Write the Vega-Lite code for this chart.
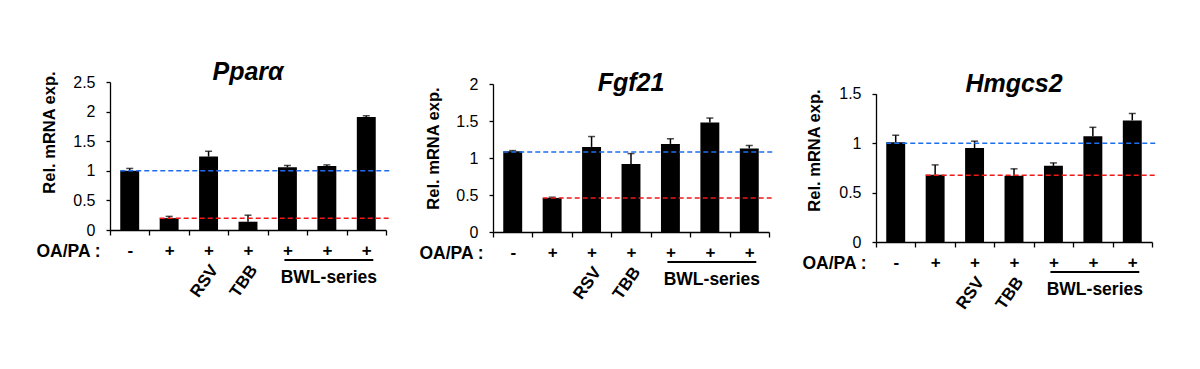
{
  "$schema": "https://vega.github.io/schema/vega-lite/v6.json",
  "background": "white",
  "padding": {"left": 36, "top": 59, "right": 5, "bottom": 5},
  "config": {
    "view": {"stroke": null},
    "font": "Liberation Sans",
    "axis": {"domainColor": "black", "tickColor": "black", "labelColor": "black", "titleColor": "black", "domainWidth": 1.3, "tickWidth": 1.3, "grid": false}
  },
  "datasets": {
    "bars": [
      {"gene": "Pparα", "cat": "Control", "agent": "", "value": 1.00, "upper": 1.04},
      {"gene": "Pparα", "cat": "OA/PA", "agent": "", "value": 0.20, "upper": 0.23},
      {"gene": "Pparα", "cat": "OA/PA+RSV", "agent": "RSV", "value": 1.24, "upper": 1.33},
      {"gene": "Pparα", "cat": "OA/PA+TBB", "agent": "TBB", "value": 0.14, "upper": 0.25},
      {"gene": "Pparα", "cat": "OA/PA+BWL-1", "agent": "", "value": 1.06, "upper": 1.09},
      {"gene": "Pparα", "cat": "OA/PA+BWL-2", "agent": "", "value": 1.08, "upper": 1.10},
      {"gene": "Pparα", "cat": "OA/PA+BWL-3", "agent": "", "value": 1.91, "upper": 1.93},
      {"gene": "Fgf21", "cat": "Control", "agent": "", "value": 1.09, "upper": 1.10},
      {"gene": "Fgf21", "cat": "OA/PA", "agent": "", "value": 0.46, "upper": 0.47},
      {"gene": "Fgf21", "cat": "OA/PA+RSV", "agent": "RSV", "value": 1.15, "upper": 1.29},
      {"gene": "Fgf21", "cat": "OA/PA+TBB", "agent": "TBB", "value": 0.92, "upper": 1.06},
      {"gene": "Fgf21", "cat": "OA/PA+BWL-1", "agent": "", "value": 1.19, "upper": 1.26},
      {"gene": "Fgf21", "cat": "OA/PA+BWL-2", "agent": "", "value": 1.48, "upper": 1.54},
      {"gene": "Fgf21", "cat": "OA/PA+BWL-3", "agent": "", "value": 1.13, "upper": 1.17},
      {"gene": "Hmgcs2", "cat": "Control", "agent": "", "value": 1.01, "upper": 1.08},
      {"gene": "Hmgcs2", "cat": "OA/PA", "agent": "", "value": 0.68, "upper": 0.78},
      {"gene": "Hmgcs2", "cat": "OA/PA+RSV", "agent": "RSV", "value": 0.95, "upper": 1.02},
      {"gene": "Hmgcs2", "cat": "OA/PA+TBB", "agent": "TBB", "value": 0.67, "upper": 0.74},
      {"gene": "Hmgcs2", "cat": "OA/PA+BWL-1", "agent": "", "value": 0.77, "upper": 0.80},
      {"gene": "Hmgcs2", "cat": "OA/PA+BWL-2", "agent": "", "value": 1.07, "upper": 1.16},
      {"gene": "Hmgcs2", "cat": "OA/PA+BWL-3", "agent": "", "value": 1.23, "upper": 1.30}
    ],
    "refs": [
      {"gene": "Pparα", "ref": "Control", "from": "Control", "to": "OA/PA+BWL-3", "level": 1.00},
      {"gene": "Pparα", "ref": "OA/PA", "from": "OA/PA", "to": "OA/PA+BWL-3", "level": 0.20},
      {"gene": "Fgf21", "ref": "Control", "from": "Control", "to": "OA/PA+BWL-3", "level": 1.08},
      {"gene": "Fgf21", "ref": "OA/PA", "from": "OA/PA", "to": "OA/PA+BWL-3", "level": 0.46},
      {"gene": "Hmgcs2", "ref": "Control", "from": "Control", "to": "OA/PA+BWL-3", "level": 1.00},
      {"gene": "Hmgcs2", "ref": "OA/PA", "from": "OA/PA", "to": "OA/PA+BWL-3", "level": 0.675}
    ],
    "bracket": [
      {"label": "BWL-series", "from": "OA/PA+BWL-1", "mid": "OA/PA+BWL-2", "to": "OA/PA+BWL-3"}
    ]
  },
  "hconcat": [
    {
      "width": 276, "height": 148,
      "title": {"text": "Pparα", "font": "Liberation Sans", "fontSize": 25, "fontWeight": "bold", "fontStyle": "italic", "color": "black", "anchor": "middle", "frame": "group", "offset": -14},
      "layer": [
        {
          "data": {"name": "bars"}, "transform": [{"filter": "datum.gene === 'Pparα'"}],
          "mark": {"type": "bar", "color": "black", "width": {"band": 0.48}},
          "encoding": {
            "x": {"field": "cat", "type": "nominal", "sort": null,
              "scale": {"domain": ["Control", "OA/PA", "OA/PA+RSV", "OA/PA+TBB", "OA/PA+BWL-1", "OA/PA+BWL-2", "OA/PA+BWL-3"], "paddingInner": 0, "paddingOuter": 0},
              "axis": {"tickBand": "extent", "tickSize": 5, "labelAngle": 0, "labelExpr": "datum.value === 'Control' ? '-' : (isString(datum.value) && indexof(datum.value, 'OA/PA') === 0 ? '+' : '')", "labelFontSize": 17, "labelFontWeight": "bold", "labelBaseline": "middle", "labelPadding": 15,
                "title": "OA/PA :", "titleFontSize": 17.5, "titleFontWeight": "bold", "titleX": -74, "titleY": 21, "titleAlign": "left", "titleBaseline": "middle", "titleAnchor": null}},
            "y": {"field": "value", "type": "quantitative",
              "scale": {"domain": [0, 2.5], "nice": false},
              "axis": {"values": [0, 0.5, 1, 1.5, 2, 2.5], "tickCount": 12, "format": "~g", "labelOverlap": {"expr": "false"}, "tickSize": 4, "labelFontSize": 16, "labelPadding": 11,
                "title": "Rel. mRNA exp.", "titleFontSize": 16.5, "titleFontWeight": "bold", "titleX": -53, "titleY": 50, "titleAlign": "center", "titleBaseline": "bottom", "titleAnchor": null}}
          }
        },
        {
          "data": {"name": "bars"}, "transform": [{"filter": "datum.gene === 'Pparα'"}],
          "mark": {"type": "rule", "color": "black", "strokeWidth": 1.5},
          "encoding": {"x": {"field": "cat", "type": "nominal", "sort": null}, "y": {"field": "value", "type": "quantitative"}, "y2": {"field": "upper"}}
        },
        {
          "data": {"name": "bars"}, "transform": [{"filter": "datum.gene === 'Pparα'"}],
          "mark": {"type": "tick", "color": "black", "orient": "horizontal", "size": 7, "thickness": 1.5},
          "encoding": {"x": {"field": "cat", "type": "nominal", "sort": null}, "y": {"field": "upper", "type": "quantitative"}}
        },
        {
          "data": {"name": "refs"}, "transform": [{"filter": "datum.gene === 'Pparα'"}],
          "mark": {"type": "rule", "strokeDash": [5, 3], "strokeWidth": 1.5, "x2Offset": 24},
          "encoding": {"x": {"field": "from", "type": "nominal", "sort": null, "bandPosition": 0.26}, "x2": {"field": "to"}, "y": {"field": "level", "type": "quantitative"},
            "color": {"field": "ref", "type": "nominal", "scale": {"domain": ["Control", "OA/PA"], "range": ["#1f6feb", "#f01818"]}, "legend": null}}
        },
        {
          "data": {"name": "bars"}, "transform": [{"filter": "datum.gene === 'Pparα'"}],
          "mark": {"type": "text", "angle": 305, "align": "right", "baseline": "middle", "fontSize": 17, "fontWeight": "bold", "color": "black", "xOffset": 6, "yOffset": 37},
          "encoding": {"x": {"field": "cat", "type": "nominal", "sort": null}, "y": {"datum": 0}, "text": {"field": "agent"}}
        },
        {
          "data": {"name": "bracket"},
          "mark": {"type": "rule", "color": "black", "strokeWidth": 2, "xOffset": -3, "x2Offset": 7, "yOffset": 30},
          "encoding": {"x": {"field": "from", "type": "nominal", "sort": null}, "x2": {"field": "to"}, "y": {"datum": 0}}
        },
        {
          "data": {"name": "bracket"},
          "mark": {"type": "text", "fontSize": 17.5, "fontWeight": "bold", "color": "black", "baseline": "middle", "align": "center", "xOffset": 2, "yOffset": 48},
          "encoding": {"x": {"field": "mid", "type": "nominal", "sort": null}, "y": {"datum": 0}, "text": {"field": "label"}}
        }
      ]
    },
    {
      "width": 276, "height": 150,
      "title": {"text": "Fgf21", "font": "Liberation Sans", "fontSize": 25, "fontWeight": "bold", "fontStyle": "italic", "color": "black", "anchor": "middle", "frame": "group", "offset": -20},
      "layer": [
        {
          "data": {"name": "bars"}, "transform": [{"filter": "datum.gene === 'Fgf21'"}],
          "mark": {"type": "bar", "color": "black", "width": {"band": 0.48}},
          "encoding": {
            "x": {"field": "cat", "type": "nominal", "sort": null,
              "scale": {"domain": ["Control", "OA/PA", "OA/PA+RSV", "OA/PA+TBB", "OA/PA+BWL-1", "OA/PA+BWL-2", "OA/PA+BWL-3"], "paddingInner": 0, "paddingOuter": 0},
              "axis": {"tickBand": "extent", "tickSize": 5, "labelAngle": 0, "labelExpr": "datum.value === 'Control' ? '-' : (isString(datum.value) && indexof(datum.value, 'OA/PA') === 0 ? '+' : '')", "labelFontSize": 17, "labelFontWeight": "bold", "labelBaseline": "middle", "labelPadding": 15,
                "title": "OA/PA :", "titleFontSize": 17.5, "titleFontWeight": "bold", "titleX": -74, "titleY": 21, "titleAlign": "left", "titleBaseline": "middle", "titleAnchor": null}},
            "y": {"field": "value", "type": "quantitative",
              "scale": {"domain": [0, 2], "nice": false, "range": [150, 2]},
              "axis": {"values": [0, 0.5, 1, 1.5, 2], "tickCount": 12, "format": "~g", "labelOverlap": {"expr": "false"}, "tickSize": 4, "labelFontSize": 16, "labelPadding": 11,
                "title": "Rel. mRNA exp.", "titleFontSize": 16.5, "titleFontWeight": "bold", "titleX": -52, "titleY": 66, "titleAlign": "center", "titleBaseline": "bottom", "titleAnchor": null}}
          }
        },
        {
          "data": {"name": "bars"}, "transform": [{"filter": "datum.gene === 'Fgf21'"}],
          "mark": {"type": "rule", "color": "black", "strokeWidth": 1.5},
          "encoding": {"x": {"field": "cat", "type": "nominal", "sort": null}, "y": {"field": "value", "type": "quantitative"}, "y2": {"field": "upper"}}
        },
        {
          "data": {"name": "bars"}, "transform": [{"filter": "datum.gene === 'Fgf21'"}],
          "mark": {"type": "tick", "color": "black", "orient": "horizontal", "size": 7, "thickness": 1.5},
          "encoding": {"x": {"field": "cat", "type": "nominal", "sort": null}, "y": {"field": "upper", "type": "quantitative"}}
        },
        {
          "data": {"name": "refs"}, "transform": [{"filter": "datum.gene === 'Fgf21'"}],
          "mark": {"type": "rule", "strokeDash": [5, 3], "strokeWidth": 1.5, "x2Offset": 24},
          "encoding": {"x": {"field": "from", "type": "nominal", "sort": null, "bandPosition": 0.26}, "x2": {"field": "to"}, "y": {"field": "level", "type": "quantitative"},
            "color": {"field": "ref", "type": "nominal", "scale": {"domain": ["Control", "OA/PA"], "range": ["#1f6feb", "#f01818"]}, "legend": null}}
        },
        {
          "data": {"name": "bars"}, "transform": [{"filter": "datum.gene === 'Fgf21'"}],
          "mark": {"type": "text", "angle": 305, "align": "right", "baseline": "middle", "fontSize": 17, "fontWeight": "bold", "color": "black", "xOffset": 6, "yOffset": 37},
          "encoding": {"x": {"field": "cat", "type": "nominal", "sort": null}, "y": {"datum": 0}, "text": {"field": "agent"}}
        },
        {
          "data": {"name": "bracket"},
          "mark": {"type": "rule", "color": "black", "strokeWidth": 2, "xOffset": -3, "x2Offset": 7, "yOffset": 30},
          "encoding": {"x": {"field": "from", "type": "nominal", "sort": null}, "x2": {"field": "to"}, "y": {"datum": 0}}
        },
        {
          "data": {"name": "bracket"},
          "mark": {"type": "text", "fontSize": 17.5, "fontWeight": "bold", "color": "black", "baseline": "middle", "align": "center", "xOffset": 2, "yOffset": 48},
          "encoding": {"x": {"field": "mid", "type": "nominal", "sort": null}, "y": {"datum": 0}, "text": {"field": "label"}}
        }
      ]
    },
    {
      "width": 276, "height": 160,
      "title": {"text": "Hmgcs2", "font": "Liberation Sans", "fontSize": 25, "fontWeight": "bold", "fontStyle": "italic", "color": "black", "anchor": "middle", "frame": "group", "offset": -15.3},
      "layer": [
        {
          "data": {"name": "bars"}, "transform": [{"filter": "datum.gene === 'Hmgcs2'"}],
          "mark": {"type": "bar", "color": "black", "width": {"band": 0.48}},
          "encoding": {
            "x": {"field": "cat", "type": "nominal", "sort": null,
              "scale": {"domain": ["Control", "OA/PA", "OA/PA+RSV", "OA/PA+TBB", "OA/PA+BWL-1", "OA/PA+BWL-2", "OA/PA+BWL-3"], "paddingInner": 0, "paddingOuter": 0},
              "axis": {"tickBand": "extent", "tickSize": 5, "labelAngle": 0, "labelExpr": "datum.value === 'Control' ? '-' : (isString(datum.value) && indexof(datum.value, 'OA/PA') === 0 ? '+' : '')", "labelFontSize": 17, "labelFontWeight": "bold", "labelBaseline": "middle", "labelPadding": 15,
                "title": "OA/PA :", "titleFontSize": 17.5, "titleFontWeight": "bold", "titleX": -74, "titleY": 21, "titleAlign": "left", "titleBaseline": "middle", "titleAnchor": null}},
            "y": {"field": "value", "type": "quantitative",
              "scale": {"domain": [0, 1.5], "nice": false, "range": [160, 11.7]},
              "axis": {"values": [0, 0.5, 1, 1.5], "tickCount": 12, "format": "~g", "labelOverlap": {"expr": "false"}, "tickSize": 4, "labelFontSize": 16, "labelPadding": 11,
                "title": "Rel. mRNA exp.", "titleFontSize": 16.5, "titleFontWeight": "bold", "titleX": -54, "titleY": 68, "titleAlign": "center", "titleBaseline": "bottom", "titleAnchor": null}}
          }
        },
        {
          "data": {"name": "bars"}, "transform": [{"filter": "datum.gene === 'Hmgcs2'"}],
          "mark": {"type": "rule", "color": "black", "strokeWidth": 1.5},
          "encoding": {"x": {"field": "cat", "type": "nominal", "sort": null}, "y": {"field": "value", "type": "quantitative"}, "y2": {"field": "upper"}}
        },
        {
          "data": {"name": "bars"}, "transform": [{"filter": "datum.gene === 'Hmgcs2'"}],
          "mark": {"type": "tick", "color": "black", "orient": "horizontal", "size": 7, "thickness": 1.5},
          "encoding": {"x": {"field": "cat", "type": "nominal", "sort": null}, "y": {"field": "upper", "type": "quantitative"}}
        },
        {
          "data": {"name": "refs"}, "transform": [{"filter": "datum.gene === 'Hmgcs2'"}],
          "mark": {"type": "rule", "strokeDash": [5, 3], "strokeWidth": 1.5, "x2Offset": 24},
          "encoding": {"x": {"field": "from", "type": "nominal", "sort": null, "bandPosition": 0.26}, "x2": {"field": "to"}, "y": {"field": "level", "type": "quantitative"},
            "color": {"field": "ref", "type": "nominal", "scale": {"domain": ["Control", "OA/PA"], "range": ["#1f6feb", "#f01818"]}, "legend": null}}
        },
        {
          "data": {"name": "bars"}, "transform": [{"filter": "datum.gene === 'Hmgcs2'"}],
          "mark": {"type": "text", "angle": 305, "align": "right", "baseline": "middle", "fontSize": 17, "fontWeight": "bold", "color": "black", "xOffset": 6, "yOffset": 37},
          "encoding": {"x": {"field": "cat", "type": "nominal", "sort": null}, "y": {"datum": 0}, "text": {"field": "agent"}}
        },
        {
          "data": {"name": "bracket"},
          "mark": {"type": "rule", "color": "black", "strokeWidth": 2, "xOffset": -3, "x2Offset": 7, "yOffset": 30},
          "encoding": {"x": {"field": "from", "type": "nominal", "sort": null}, "x2": {"field": "to"}, "y": {"datum": 0}}
        },
        {
          "data": {"name": "bracket"},
          "mark": {"type": "text", "fontSize": 17.5, "fontWeight": "bold", "color": "black", "baseline": "middle", "align": "center", "xOffset": 2, "yOffset": 48},
          "encoding": {"x": {"field": "mid", "type": "nominal", "sort": null}, "y": {"datum": 0}, "text": {"field": "label"}}
        }
      ]
    }
  ],
  "spacing": 107,
  "bounds": "flush"
}
